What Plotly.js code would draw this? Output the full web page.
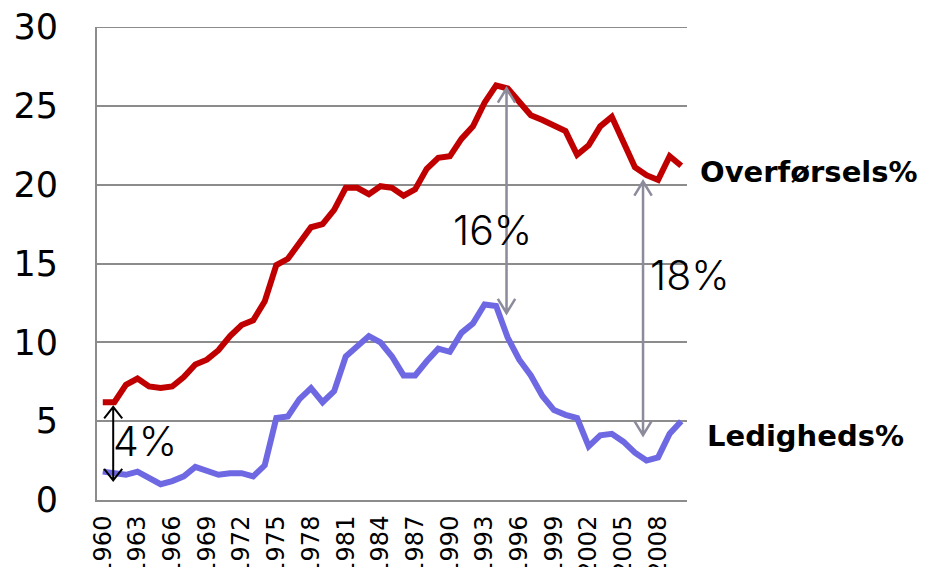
<!DOCTYPE html>
<html>
<head>
<meta charset="utf-8">
<script src="https://cdn.plot.ly/plotly-3.0.1.min.js"></script>
<style>html,body{margin:0;padding:0;background:#fff;}#chart{width:928px;height:567px;}</style>
</head>
<body>
<div id="chart"></div>
<script>
const years = [1960,1961,1962,1963,1964,1965,1966,1967,1968,1969,
               1970,1971,1972,1973,1974,1975,1976,1977,1978,1979,
               1980,1981,1982,1983,1984,1985,1986,1987,1988,1989,
               1990,1991,1992,1993,1994,1995,1996,1997,1998,1999,
               2000,2001,2002,2003,2004,2005,2006,2007,2008,2009,2010];

const overfoersels = [6.2,6.2,7.3,7.7,7.2,7.1,7.2,7.8,8.6,8.9,
                      9.5,10.4,11.1,11.4,12.6,14.9,15.3,16.3,17.3,17.5,
                      18.4,19.8,19.8,19.4,19.9,19.8,19.3,19.7,21.0,21.7,
                      21.8,22.9,23.7,25.2,26.3,26.1,25.3,24.4,24.1,23.7,
                      23.4,21.9,22.5,23.7,24.3,22.7,21.1,20.6,20.3,21.8,21.2];

const ledigheds = [1.8,1.7,1.6,1.8,1.4,1.0,1.2,1.5,2.1,1.8,
                   1.6,1.7,1.7,1.5,2.2,5.2,5.3,6.4,7.1,6.2,
                   6.9,9.1,9.8,10.4,10.0,9.1,7.9,7.9,8.8,9.6,
                   9.4,10.6,11.2,12.4,12.3,10.3,8.9,7.9,6.6,5.7,
                   5.4,5.2,3.4,4.1,4.2,3.7,3.0,2.5,2.7,4.2,5.0];

const tickYears = [1960,1963,1966,1969,1972,1975,1978,1981,1984,1987,1990,1993,1996,1999,2002,2005,2008];
const tickLabels = ["1960","1963","1966","1969","1972","1975","1978","1981","1984","1987","1990","1993","1996","1999","2002","2005","2008"];

const seriesNames = ["Overførsels%", "Ledigheds%"];

// gap arrows: year, top value, bottom value, label
const gapYears  = [1960.9, 1994.9, 2006.7];
const gapTops   = [5.9, 26.1, 20.2];
const gapBots   = [1.25, 11.86, 4.12];
const gapLabels = ["4%", "16%", "18%"];

const RED = '#C00000';
const BLUE = '#6E69E3';
const GRID = '#8C8C8C';
const ARROW_GRAY = '#8B8B9B';

const X_RANGE = [1959.5, 2010.5];
function toPaperX(yr) { return (yr - X_RANGE[0]) / (X_RANGE[1] - X_RANGE[0]); }

function arrowPath(x, top, bot, dx, dy) {
  return `M ${x},${top} L ${x},${bot} ` +
         `M ${x-dx},${top-dy} L ${x},${top} L ${x+dx},${top-dy} ` +
         `M ${x-dx},${bot+dy} L ${x},${bot} L ${x+dx},${bot+dy}`;
}

const shapes = gapYears.map((yr, i) => ({
  type: 'path', xref: 'x', yref: 'y',
  path: i === 0 ? arrowPath(yr, gapTops[i], gapBots[i], 0.78, 0.73)
                : arrowPath(yr, gapTops[i], gapBots[i], 0.75, 0.9),
  line: { color: i === 0 ? '#000000' : ARROW_GRAY, width: i === 0 ? 2 : 2.5 }
}));
// top border gridline at 30
shapes.unshift({ type: 'line', xref: 'paper', yref: 'y', x0: 0, x1: 1, y0: 30, y1: 30,
                 line: { color: GRID, width: 2 }, layer: 'below' });

const labelPos = [[1963.65, 3.75], [1993.72, 17.1], [2010.75, 14.25]];
const pctFont = { family: 'Inter, "Liberation Sans", sans-serif', size: 41, color: '#000', weight: 300 };

const annotations = gapLabels.map((t, i) => ({
  x: toPaperX(labelPos[i][0]), y: labelPos[i][1], xref: 'paper', yref: 'y',
  text: t, showarrow: false, xanchor: 'center', yanchor: 'middle', font: pctFont
}));

const nameFont = { family: '"DejaVu Sans", Verdana, sans-serif', size: 29, color: '#000' };
annotations.push({
  x: toPaperX(2011.44), y: 20.8, xref: 'paper', yref: 'y', text: '<b>' + seriesNames[0] + '</b>',
  showarrow: false, xanchor: 'left', yanchor: 'middle', font: nameFont
});
annotations.push({
  x: toPaperX(2012.04), y: 4.06, xref: 'paper', yref: 'y', text: '<b>' + seriesNames[1] + '</b>',
  showarrow: false, xanchor: 'left', yanchor: 'middle', font: nameFont
});

const traces = [
  { x: years, y: overfoersels, name: seriesNames[0], mode: 'lines',
    line: { color: RED, width: 6 } },
  { x: years, y: ledigheds, name: seriesNames[1], mode: 'lines',
    line: { color: BLUE, width: 6 } }
];

const layout = {
  width: 928, height: 567,
  margin: { l: 97, r: 241, t: 27, b: 67 },
  paper_bgcolor: '#fff', plot_bgcolor: '#fff',
  showlegend: false,
  xaxis: {
    range: X_RANGE, tickmode: 'array', tickvals: tickYears, ticktext: tickLabels,
    tickangle: -90, showgrid: false, zeroline: false,
    showline: true, linecolor: GRID, linewidth: 2,
    ticks: '', ticklabelstandoff: 4, automargin: false,
    tickfont: { family: '"DejaVu Sans", Verdana, sans-serif', size: 24, color: '#000' }
  },
  yaxis: {
    range: [0, 30], dtick: 5, tick0: 0, showgrid: true, gridcolor: GRID, gridwidth: 2,
    zeroline: false, showline: true, linecolor: GRID, linewidth: 2,
    ticks: '', ticklabelstandoff: 30, automargin: false,
    tickfont: { family: '"DejaVu Sans", Verdana, sans-serif', size: 35, color: '#000' }
  },
  shapes: shapes,
  annotations: annotations
};

Plotly.newPlot('chart', traces, layout, { displayModeBar: false, staticPlot: true });
</script>
</body>
</html>
